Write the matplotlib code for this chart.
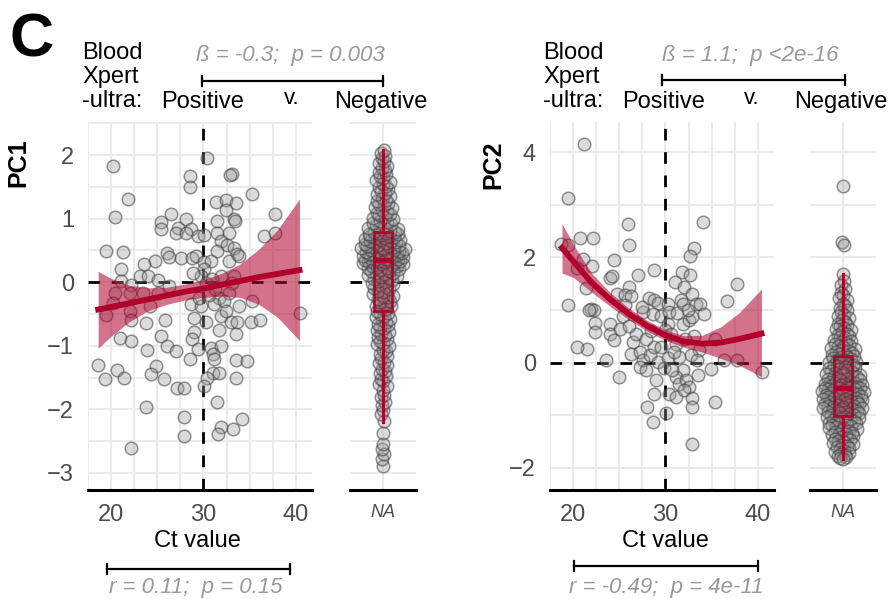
import numpy as np
import matplotlib.pyplot as plt

plt.rcParams['font.family'] = ['Liberation Sans', 'DejaVu Sans']

W, H = 893, 599

# ---- scatter: Ct value vs PC (Xpert-ultra positive) ----
ct1 = [20.25, 30.4, 28.5, 28.5, 33.1, 32.9, 21.8, 35.25, 31.4, 32.4, 33.5, 32.4, 20.4, 26.5, 25.4,
       25.4, 28.1, 27.2, 28.6, 27.0, 28.1, 29.4, 30.1, 31.5, 33.3, 33.4, 37.7, 36.6, 37.75, 31.5,
       32.75, 31.9, 19.4, 21.3, 32.6, 33.3, 31.5, 26.1, 26.3, 27.6, 28.8, 29.2, 33.6, 32.75, 33.8,
       24.7, 23.6, 30.1, 30.8, 30.1, 21.1, 23.1, 24.0, 25.1, 29.7, 31.9, 33.3, 21.1, 22.2, 26.3,
       30.25, 33.1, 20.4, 22.0, 23.5, 25.1, 31.7, 32.75, 33.8, 35.25, 20.25, 22.0, 24.2, 28.6, 29.7,
       31.1, 40.4, 22.2, 23.8, 25.8, 29.0, 30.25, 31.9, 33.0, 33.6, 35.1, 36.1, 19.4,
       29.0, 28.8, 31.7, 33.5, 21.0, 22.2, 25.4, 26.0, 27.0, 23.9, 29.4, 30.8, 31.9, 31.0, 31.1,
       28.5, 33.5, 34.7, 18.6, 20.6, 19.3, 21.4, 24.9, 24.3, 25.7, 31.0, 31.7, 30.4, 33.5, 27.1,
       27.9, 30.1, 31.5, 23.8, 27.9, 34.2, 31.9, 33.2, 31.6, 27.9, 22.2,
       30.6, 31.2, 32.2, 29.5, 28.9, 30.9, 32.4]
pc1 = [1.83, 1.96, 1.67, 1.49, 1.70, 1.69, 1.31, 1.38, 1.26, 1.29, 1.25, 1.14, 1.02, 1.08, 0.95,
       0.84, 0.99, 0.86, 0.84, 0.77, 0.78, 0.73, 0.74, 0.96, 1.00, 0.97, 1.07, 0.73, 0.78, 0.78,
       0.78, 0.65, 0.49, 0.47, 0.59, 0.54, 0.49, 0.46, 0.40, 0.38, 0.38, 0.41, 0.44, 0.33, 0.41,
       0.33, 0.28, 0.31, 0.33, 0.20, 0.20, 0.09, 0.09, 0.04, 0.09, 0.09, 0.09, 0.02, -0.04, -0.06,
       -0.01, -0.01, -0.17, -0.17, -0.17, -0.17, -0.25, -0.17, -0.38, -0.30, -0.33, -0.46, -0.38, -0.35, -0.38,
       -0.35, -0.48, -0.59, -0.64, -0.59, -0.56, -0.62, -0.54, -0.62, -0.63, -0.62, -0.59, -0.52,
       -0.79, -0.89, -0.76, -0.82, -0.88, -0.92, -0.84, -1.00, -1.09, -1.07, -1.05, -1.04, -1.00, -1.13, -1.21,
       -1.21, -1.22, -1.24, -1.31, -1.38, -1.52, -1.50, -1.32, -1.45, -1.52, -1.43, -1.43, -1.50, -1.51, -1.67,
       -1.67, -1.64, -1.89, -1.97, -2.12, -2.16, -2.28, -2.31, -2.39, -2.42, -2.61,
       -0.20, -0.10, -0.30, -0.25, 0.15, 0.05, -0.45]

ct2 = [21.2, 19.4, 25.9, 34.1, 18.7, 19.4, 20.8, 22.2, 26.1, 33.1, 32.7, 21.1, 22.1, 24.4, 20.4,
       28.8, 27.0, 24.0, 24.2, 31.8, 32.7, 31.0, 37.75, 26.1, 21.4, 32.0, 32.9, 19.4, 36.7, 24.8,
       25.6, 26.3, 28.2, 28.8, 29.2, 30.25, 31.7, 31.9, 33.3, 33.7, 21.9, 22.3, 25.6,
       21.7, 22.4, 22.4, 24.0, 24.0, 24.4, 25.1, 25.4, 26.5, 26.3, 27.2, 27.6, 27.2, 27.9, 28.3,
       28.8, 29.2, 27.6, 28.6, 29.5, 30.4, 30.25, 29.9, 30.6, 31.1, 31.9, 32.6, 32.9, 34.2, 33.1,
       33.6, 32.75, 33.4, 34.9, 35.4, 36.3, 37.75, 40.4, 21.5, 20.4, 23.6, 25.0, 30.25, 31.5, 31.9,
       31.1, 31.5, 32.2, 33.5, 32.6, 29.0, 28.8, 30.4, 31.1, 32.0, 32.9, 32.9, 35.4, 28.0, 30.1,
       28.6, 32.9,
       26.8, 27.9, 29.5, 30.9, 32.1, 29.8, 30.7, 28.4, 26.0, 27.5, 31.3, 32.4]
pc2 = [4.15, 3.12, 2.64, 2.67, 2.26, 2.24, 2.37, 2.36, 2.23, 2.17, 2.02, 1.96, 1.83, 1.94, 1.80,
       1.75, 1.66, 1.61, 1.64, 1.73, 1.66, 1.53, 1.50, 1.44, 1.42, 1.44, 1.31, 1.09, 1.17, 1.30,
       1.29, 1.27, 1.23, 1.18, 1.14, 1.12, 1.18, 1.12, 1.12, 1.11, 1.01, 0.99, 1.10,
       1.00, 0.75, 0.58, 0.74, 0.55, 0.42, 0.64, 0.89, 0.39, 0.17, 0.20, 0.04, -0.09, -0.15, 0.14,
       0.29, 0.01, 0.96, 0.92, 0.89, 0.96, 0.73, 0.61, 0.55, 0.36, 0.73, 0.80, 0.86, 0.92, 0.51,
       0.23, 0.14, 0.04, -0.12, 0.45, 0.04, 0.05, -0.18, 0.26, 0.29, 0.05, -0.27, 0.09, 0.10, -0.15,
       -0.27, -0.40, -0.34, -0.24, -0.46, -0.34, -0.59, -0.59, -0.65, -0.53, -0.68, -0.84, -0.75, -0.84, -0.96,
       -1.13, -1.55,
       0.55, 0.45, 0.30, 0.20, 0.45, -0.10, -0.15, 0.60, 0.70, 1.05, 0.95, 1.00]

# ---- Xpert-ultra negative (NA Ct) ----
pc1_na = [-2.89, -2.79, -2.70, -2.63, -2.55, -2.37,
          -2.19, -2.08, -2.01, -1.93, -1.88, -1.80, -1.77, -1.69, -1.64, -1.61, -1.55, -1.52, -1.47,
          -1.43, -1.39, -1.36, -1.30, -1.27, -1.25, -1.19, -1.16, -1.13, -1.08, -1.06, -1.01, -0.98,
          -0.96, -0.92, -0.89, -0.87, -0.83, -0.81, -0.79, -0.76, -0.72, -0.71, -0.68, -0.66, -0.62,
          -0.60, -0.58, -0.55, -0.53, -0.50, -0.48, -0.46,
          -0.43, -0.41, -0.38, -0.37, -0.34, -0.31, -0.30, -0.27, -0.24, -0.22, -0.21, -0.18, -0.15,
          -0.14, -0.11, -0.09, -0.07, -0.05, -0.03, -0.02, 0.00, 0.02, 0.04, 0.05, 0.07, 0.08, 0.10,
          0.11, 0.13, 0.14, 0.15, 0.17, 0.18, 0.19, 0.21, 0.22, 0.23, 0.24, 0.25, 0.26, 0.27, 0.28,
          0.29, 0.30, 0.31, 0.31, 0.32, 0.33, 0.33, 0.34, 0.34, 0.35,
          0.36, 0.37, 0.37, 0.38, 0.39, 0.40, 0.40, 0.41, 0.42, 0.43, 0.43, 0.44, 0.45, 0.46, 0.46,
          0.47, 0.48, 0.49, 0.49, 0.50, 0.51, 0.52, 0.52, 0.53, 0.54, 0.55, 0.56, 0.57, 0.57, 0.58,
          0.59, 0.60, 0.61, 0.62, 0.63, 0.64, 0.65, 0.66, 0.67, 0.68, 0.69, 0.70, 0.71, 0.72, 0.73,
          0.74, 0.75, 0.76, 0.77, 0.78, 0.79, 0.79,
          0.81, 0.83, 0.84, 0.86, 0.88, 0.90, 0.91, 0.93, 0.95, 0.97, 0.99, 1.01, 1.03, 1.05, 1.07,
          1.09, 1.11, 1.14, 1.16, 1.18, 1.21, 1.23, 1.25, 1.28, 1.30, 1.33, 1.35, 1.38, 1.41, 1.43,
          1.46, 1.49, 1.52, 1.55, 1.58, 1.61, 1.64, 1.67, 1.70, 1.73, 1.76, 1.80, 1.83, 1.87, 1.91,
          1.95, 1.99, 2.03, 2.08]
pc2_na = [3.35, 2.29, 2.24,
          1.68, 1.55, 1.47, 1.40, 1.33, 1.29, 1.22, 1.18, 1.12, 1.08, 1.03, 0.99, 0.96, 0.91, 0.88,
          0.85, 0.81, 0.78, 0.74, 0.72, 0.69, 0.66, 0.63, 0.61, 0.58, 0.55, 0.53, 0.50, 0.48, 0.46,
          0.43, 0.41, 0.39, 0.37, 0.35, 0.33, 0.31, 0.29, 0.27, 0.25, 0.23, 0.22, 0.20, 0.18, 0.17,
          0.15, 0.14, 0.13,
          0.11, 0.10, 0.08, 0.07, 0.05, 0.04, 0.02, 0.01, -0.01, -0.02, -0.04, -0.05, -0.07, -0.08,
          -0.10, -0.11, -0.13, -0.14, -0.16, -0.17, -0.19, -0.20, -0.21, -0.23, -0.24, -0.25, -0.27,
          -0.28, -0.29, -0.31, -0.32, -0.33, -0.34, -0.36, -0.37, -0.38, -0.39, -0.40, -0.41, -0.42,
          -0.43, -0.44, -0.45, -0.46, -0.46, -0.47, -0.48, -0.48, -0.49, -0.49,
          -0.50, -0.51, -0.52, -0.53, -0.54, -0.55, -0.56, -0.57, -0.58, -0.59, -0.60, -0.61, -0.62,
          -0.63, -0.64, -0.65, -0.66, -0.67, -0.68, -0.69, -0.70, -0.71, -0.72, -0.73, -0.74, -0.75,
          -0.76, -0.77, -0.78, -0.79, -0.80, -0.81, -0.82, -0.83, -0.84, -0.85, -0.86, -0.87, -0.88,
          -0.89, -0.90, -0.91, -0.92, -0.93, -0.94, -0.95, -0.96, -0.97, -0.99, -1.00,
          -1.02, -1.03, -1.04, -1.05, -1.06, -1.08, -1.09, -1.10, -1.11, -1.13, -1.14, -1.15, -1.17,
          -1.18, -1.19, -1.21, -1.22, -1.24, -1.25, -1.27, -1.28, -1.30, -1.31, -1.33, -1.35, -1.36,
          -1.38, -1.40, -1.42, -1.44, -1.45, -1.47, -1.49, -1.51, -1.53, -1.55, -1.57, -1.59, -1.61,
          -1.63, -1.65, -1.67, -1.69, -1.71, -1.73, -1.75, -1.77, -1.79, -1.81, -1.83]

# quadratic fit + 95% band
fit_x1 = [18.6, 20, 22, 24, 26, 28, 30, 32, 34, 36, 38, 40.4]
fit_y1 = [-0.43, -0.39, -0.33, -0.27, -0.21, -0.15, -0.10, -0.04, 0.02, 0.08, 0.13, 0.19]
fit_lo1 = [-1.04, -0.85, -0.62, -0.45, -0.35, -0.28, -0.24, -0.22, -0.24, -0.35, -0.55, -0.92]
fit_hi1 = [0.17, 0.06, -0.05, -0.09, -0.08, -0.03, 0.04, 0.14, 0.29, 0.52, 0.82, 1.31]

fit_x2 = [18.8, 20, 22, 24, 26, 28, 30, 32, 34, 36, 38, 40.4]
fit_y2 = [2.18, 1.93, 1.52, 1.20, 0.93, 0.70, 0.52, 0.40, 0.36, 0.38, 0.45, 0.55]
fit_lo2 = [1.70, 1.62, 1.34, 1.07, 0.82, 0.60, 0.42, 0.29, 0.20, 0.08, -0.05, -0.27]
fit_hi2 = [2.64, 2.25, 1.70, 1.33, 1.04, 0.80, 0.62, 0.51, 0.52, 0.68, 0.95, 1.40]

# boxplot stats of the NA group
box1 = dict(q1=-0.45, med=0.35, q3=0.79, whislo=-2.20, whishi=2.08, fliers=[])
box2 = dict(q1=-1.01, med=-0.49, q3=0.13, whislo=-1.83, whishi=1.68, fliers=[])

RED = '#b0002c'
GREY_TXT = '#4d4d4d'
PT_FACE = (0.6, 0.6, 0.6, 0.35)
PT_EDGE = (0.25, 0.25, 0.25, 0.55)
PT_SIZE = 82
DASH = dict(color='black', lw=2.0, dashes=(4.2, 4.2), zorder=2)


def vdc(n, base=2):
    v, denom = 0.0, 1.0
    while n:
        denom *= base
        n, r = divmod(n, base)
        v += r / denom
    return v


def quasi_offsets(vals, half, bw=0.22):
    # ggbeeswarm-like quasirandom layout
    v = np.asarray(vals)
    dens = np.exp(-0.5 * ((v[:, None] - v[None, :]) / bw) ** 2).sum(1)
    dens = dens / dens.max()
    off = np.zeros(len(v))
    for rank, i in enumerate(np.argsort(v)):
        off[i] = (vdc(rank + 1) * 2 - 1) * dens[i] * half
    return off


fig = plt.figure(figsize=(W / 100, H / 100), dpi=100)


def add_ax(x0, x1, y0=122, y1=490):
    return fig.add_axes([x0 / W, 1 - y1 / H, (x1 - x0) / W, (y1 - y0) / H])


def style(ax, ylim, ymaj, ymin):
    ax.set_ylim(*ylim)
    ax.set_yticks(ymaj)
    ax.set_yticks(ymin, minor=True)
    ax.grid(which='both', color='#ebebeb', lw=1.5)
    ax.set_axisbelow(True)
    for s in ['left', 'right', 'top']:
        ax.spines[s].set_visible(False)
    ax.spines['bottom'].set_color('black')
    ax.spines['bottom'].set_linewidth(2.2)
    ax.tick_params(which='both', length=0, labelsize=17, colors=GREY_TXT, pad=10)
    ax.axhline(0, **DASH)


def scatter_panel(x0, x1, ct, pc, fx, fy, lo, hi, ylim, ymaj, ymin):
    ax = add_ax(x0, x1)
    style(ax, ylim, ymaj, ymin)
    ax.set_xlim(17.9, 41.75)
    ax.set_xticks([20, 30, 40])
    ax.set_xticks(np.arange(17.5, 42, 2.5), minor=True)
    ax.axvline(30, **DASH)
    ax.scatter(ct, pc, s=PT_SIZE, facecolor=PT_FACE, edgecolor=PT_EDGE, linewidth=1.1, zorder=3)
    ax.fill_between(fx, lo, hi, color=RED, alpha=0.55, lw=0, zorder=4)
    ax.plot(fx, fy, color=RED, lw=4.2, zorder=5)
    return ax


def na_panel(x0, x1, vals, stats, ylim, ymaj, ymin, half):
    ax = add_ax(x0, x1)
    style(ax, ylim, ymaj, ymin)
    ax.set_xlim(-1, 1)
    ax.set_xticks([0])
    ax.set_xticklabels(['NA'], fontsize=13, style='italic')
    ax.set_yticklabels([])
    ax.scatter(quasi_offsets(vals, half), vals, s=PT_SIZE, facecolor=PT_FACE, edgecolor=PT_EDGE,
               linewidth=1.1, zorder=3)
    b = ax.bxp([stats], positions=[0], widths=0.55, showcaps=False, showfliers=False,
               patch_artist=True, manage_ticks=False,
               boxprops=dict(facecolor=(0.69, 0.0, 0.17, 0.3), edgecolor=RED, lw=1.8),
               medianprops=dict(color=RED, lw=3.8),
               whiskerprops=dict(color=RED, lw=2.2))
    for k in b:
        for art in b[k]:
            art.set_zorder(6)
    return ax


scatter_panel(88, 312, ct1, pc1, fit_x1, fit_y1, fit_lo1, fit_hi1,
              (-3.27, 2.52), [-3, -2, -1, 0, 1, 2], np.arange(-3, 2.6, 0.5))
na_panel(350, 416, pc1_na, box1, (-3.27, 2.52), [-3, -2, -1, 0, 1, 2],
         np.arange(-3, 2.6, 0.5), 0.68)
scatter_panel(550, 774, ct2, pc2, fit_x2, fit_y2, fit_lo2, fit_hi2,
              (-2.42, 4.57), [-2, 0, 2, 4], [-1, 1, 3])
na_panel(810, 876, pc2_na, box2, (-2.42, 4.57), [-2, 0, 2, 4], [-1, 1, 3], 0.66)

# annotation layer in pixel coordinates
top = fig.add_axes([0, 0, 1, 1], zorder=10)
top.set_xlim(0, W)
top.set_ylim(H, 0)
top.axis('off')


def bracket(x0, x1, y):
    top.plot([x0, x1], [y, y], color='black', lw=1.6)
    top.plot([x0, x0], [y - 5, y + 5], color='black', lw=1.6)
    top.plot([x1, x1], [y - 5, y + 5], color='black', lw=1.6)


top.text(10, 41, 'C', fontsize=44, fontweight='bold', va='center', ha='left')

headers = [(82, 203, 292, 381, 290, 'ß = -0.3;  p = 0.003', 202, 383, 81),
           (543, 664, 752, 841, 750, 'ß = 1.1;  p <2e-16', 662, 845, 80)]
for xb, xpos, xv, xneg, xs, stat, b0, b1, by in headers:
    for lab, yy in [('Blood', 53), ('Xpert', 77), ('-ultra:', 101)]:
        top.text(xb, yy, lab, fontsize=17, va='center', ha='left')
    top.text(xpos, 102, 'Positive', fontsize=17, va='center', ha='center')
    top.text(xv, 99, 'v.', fontsize=16, va='center', ha='center')
    top.text(xneg, 102, 'Negative', fontsize=17, va='center', ha='center')
    top.text(xs, 55, stat, fontsize=16, style='italic', color='#999999', va='center', ha='center')
    bracket(b0, b1, by)

top.text(18, 163, 'PC1', fontsize=18, fontweight='bold', rotation=90, va='center', ha='center')
top.text(493, 165, 'PC2', fontsize=18, fontweight='bold', rotation=90, va='center', ha='center')

footers = [(197, 107, 290, 569, 196, 'r = 0.11;  p = 0.15'),
           (665, 574, 758, 566, 666, 'r = -0.49;  p = 4e-11')]
for xc, b0, b1, by, xs, stat in footers:
    top.text(xc, 541, 'Ct value', fontsize=17, va='center', ha='center')
    bracket(b0, b1, by)
    top.text(xs, 587, stat, fontsize=16, style='italic', color='#999999', va='center', ha='center')

fig.savefig('out.png', dpi=100)
